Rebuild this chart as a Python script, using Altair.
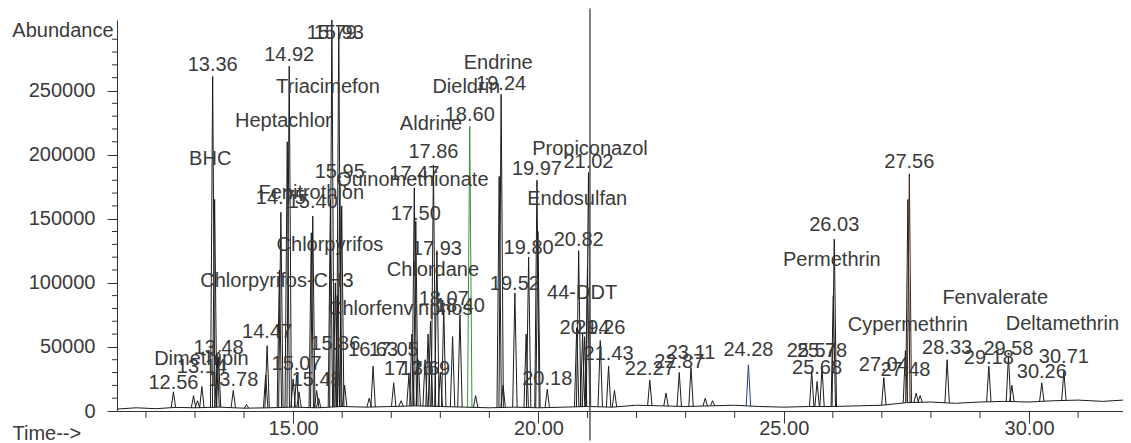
import altair as alt
import pandas as pd
import numpy as np

# ---- chromatogram peaks (retention time, abundance) ----
peak_times = [12.56, 12.97, 13.05, 13.14, 13.36, 13.40, 13.45, 13.48, 13.78, 14.05,
              14.44, 14.47, 14.72, 14.75, 14.88, 14.92, 15.00, 15.07, 15.12, 15.37,
              15.40, 15.48, 15.52, 15.76, 15.79, 15.86, 15.90, 15.93, 15.95, 15.99,
              16.05, 16.55, 16.63, 17.05, 17.20, 17.36, 17.42, 17.47, 17.50, 17.55,
              17.69, 17.75, 17.80, 17.86, 17.93, 18.00, 18.07, 18.25, 18.40, 18.60,
              18.72, 19.20, 19.24, 19.28, 19.52, 19.75, 19.80, 19.97, 19.99, 20.18,
              20.78, 20.82, 20.90, 20.94, 21.00, 21.02, 21.26, 21.43, 21.55, 22.27,
              22.60, 22.87, 23.11, 23.40, 23.55, 24.28, 25.57, 25.68, 25.78, 26.01,
              26.03, 27.04, 27.48, 27.53, 27.56, 27.70, 27.78, 28.33, 29.18, 29.58,
              29.65, 30.26, 30.71]
peak_heights = [15000, 12000, 8000, 19000, 261000, 165000, 45000, 42000, 16000, 5000,
                28000, 51000, 110000, 155000, 210000, 269000, 25000, 28000, 15000, 139000,
                152000, 16000, 10000, 165000, 305000, 100000, 90000, 300000, 180000, 160000,
                20000, 10000, 35000, 22000, 8000, 28000, 60000, 174000, 148000, 40000,
                40000, 60000, 70000, 192000, 125000, 30000, 80000, 58000, 75000, 222000,
                12000, 183000, 247000, 20000, 92000, 60000, 120000, 180000, 140000, 17000,
                65000, 125000, 60000, 58000, 113000, 186000, 55000, 35000, 16000, 24000,
                14000, 30000, 34000, 10000, 8000, 36000, 31000, 23000, 34000, 90000,
                134000, 26000, 47000, 165000, 185000, 14000, 12000, 40000, 35000, 43000,
                20000, 22000, 31000]

# ---- baseline (retention time, abundance) ----
base_times = [11.41, 11.8, 12.2, 12.6, 13.0, 13.5, 14.0, 14.5, 15.0, 15.5, 16.0, 16.5,
              17.0, 17.5, 18.0, 18.5, 19.0, 19.5, 20.0, 20.5, 21.0, 21.5, 22.0, 22.5,
              23.0, 23.5, 24.0, 24.5, 25.0, 25.5, 26.0, 26.5, 27.0, 27.5, 28.0, 28.5,
              29.0, 29.5, 30.0, 30.5, 31.0, 31.5, 31.915]
base_levels = [1500, 2500, 1800, 2800, 2500, 3000, 2200, 2500, 3000, 2500, 3500, 3000,
               3500, 4000, 3500, 3000, 2500, 3000, 2500, 3000, 3500, 3000, 4500, 4000,
               3500, 4000, 4500, 3500, 3000, 3500, 3500, 4000, 4500, 6500, 7000, 6000,
               7000, 7500, 7000, 8000, 8500, 7500, 8500]

# ---- retention-time labels ----
rt_labels = ["12.56", "13.14", "13.36", "13.48", "13.78", "14.47", "14.75", "14.92",
             "15.07", "15.40", "15.48", "15.79", "15.93", "15.86", "15.95", "16.63",
             "17.05", "17.36", "17.69", "17.47", "17.50", "17.86", "17.93", "18.07",
             "18.40", "18.60", "19.24", "19.52", "19.80", "19.97", "20.18", "20.82",
             "20.94", "21.02", "21.26", "21.43", "22.27", "22.87", "23.11", "24.28",
             "25.57", "25.78", "25.68", "26.03", "27.04", "27.48", "27.56", "28.33",
             "29.18", "29.58", "30.26", "30.71"]
rt_label_heights = [22200, 34600, 270000, 49300, 24300, 61500, 166000, 277400,
                    36300, 163300, 24500, 295000, 295000, 52400, 186600, 47600,
                    47500, 32500, 32500, 184600, 154000, 201700, 126000, 87000,
                    82100, 231000, 255000, 98900, 126800, 189000, 24600, 133500,
                    64800, 194300, 64700, 44400, 32400, 38400, 45300, 47200,
                    46800, 46700, 33500, 145000, 36000, 32000, 194200, 48800,
                    41500, 48400, 30200, 42500]

# ---- compound names ----
compound_names = ["Dimethipin", "BHC", "Chlorpyrifos-CH3", "Heptachlor", "Fenitrothion",
                  "Triacimefon", "Chlorpyrifos", "Quinomethionate", "Aldrine", "Dieldrin",
                  "Endrine", "Propiconazol", "Endosulfan", "Chlordane", "44-DDT",
                  "Permethrin", "Cypermethrin", "Fenvalerate", "Deltamethrin"]
compound_times = [13.13, 13.31, 14.67, 14.80, 15.37, 15.71, 15.75, 17.43, 17.81, 18.53,
                  19.18, 21.05, 20.79, 17.85, 20.89, 25.98, 27.53, 29.31, 30.68]
compound_heights = [40800, 196700, 101200, 226000, 170400, 253000, 129700, 180300, 223500,
                    252900, 271400, 204400, 165500, 109700, 92100, 118100, 66900, 88200,
                    68250]
chlorfenvinphos_time = [15.71]
chlorfenvinphos_height = [79600]

cursor_time = [21.05]
cursor_top = [314000]
cursor_bottom = [-23000]

# ---- axis ticks ----
x_major = [15, 20, 25, 30]
x_minor = [12, 13, 14, 16, 17, 18, 19, 21, 22, 23, 24, 26, 27, 28, 29, 31]
y_major = [0, 50000, 100000, 150000, 200000, 250000]
y_minor = [v for v in range(10000, 310000, 10000) if v % 50000 != 0]

# ---- styling ----
FONT = "Liberation Sans"
TXT = "#3a3a3a"
INK = "#1c1c1c"
AXC = "#333333"
PEAK_W = 0.045
highlight = {18.60: "#3f8f3f", 24.28: "#2c3c88", 27.56: "#4a2418"}
W, H = 1006, 391

XDOM = [11.41, 31.915]
YDOM = [0, 305000]

rows = []
for i, (t, h) in enumerate(zip(peak_times, peak_heights)):
    b = float(np.interp(t, base_times, base_levels))
    col = highlight.get(t, INK)
    rows.append({"id": i, "t": t - PEAK_W, "v": b, "o": 0, "col": col})
    rows.append({"id": i, "t": t, "v": h, "o": 1, "col": col})
    rows.append({"id": i, "t": t + PEAK_W, "v": b, "o": 2, "col": col})
peaks_df = pd.DataFrame(rows)
base_df = pd.DataFrame({"t": base_times, "v": base_levels})
rt_df = pd.DataFrame({"t": [float(s) for s in rt_labels], "v": rt_label_heights, "label": rt_labels})
name_df = pd.DataFrame({"t": compound_times, "v": compound_heights, "label": compound_names})
cfv_df = pd.DataFrame({"t": chlorfenvinphos_time, "v": chlorfenvinphos_height,
                       "label": ["Chlorfenvinphos"]})
cursor_df = pd.DataFrame({"t": cursor_time, "y1": cursor_top, "y2": cursor_bottom})
xminor_df = pd.DataFrame({"t": x_minor})
yminor_df = pd.DataFrame({"v": y_minor})

xscale = alt.Scale(domain=XDOM, nice=False, zero=False)
yscale = alt.Scale(domain=YDOM, nice=False, zero=False)

xaxis = alt.Axis(
    values=x_major, format=".2f", tickSize=12, labelPadding=-5, labelOverlap=False,
    grid=False, title="Time-->",
    titleX=-105, titleY=22, titleAlign="left", titleBaseline="middle", titleAngle=0,
)
yaxis = alt.Axis(
    values=y_major, format="d", tickSize=10, labelPadding=12, labelOverlap=False,
    grid=False, title="Abundance",
    titleX=-4, titleY=10, titleAlign="right", titleBaseline="middle", titleAngle=0,
)

baseline = alt.Chart(base_df).mark_line(color=INK, strokeWidth=1, clip=True).encode(
    x=alt.X("t:Q", scale=xscale, axis=xaxis),
    y=alt.Y("v:Q", scale=yscale, axis=yaxis),
)
peaks = alt.Chart(peaks_df).mark_line(strokeWidth=1, clip=True).encode(
    x=alt.X("t:Q", scale=xscale),
    y=alt.Y("v:Q", scale=yscale),
    detail="id:N",
    order="o:Q",
    color=alt.Color("col:N", scale=None),
)
cursor = alt.Chart(cursor_df).mark_rule(color="#555555", strokeWidth=1.5, clip=False).encode(
    x=alt.X("t:Q", scale=xscale),
    y=alt.Y("y1:Q", scale=yscale),
    y2="y2:Q",
)
xminor = alt.Chart(xminor_df).mark_rule(color=AXC, strokeWidth=1, clip=False).encode(
    x=alt.X("t:Q", scale=xscale),
    y=alt.value(H),
    y2=alt.value(H + 7),
)
yminor = alt.Chart(yminor_df).mark_rule(color=AXC, strokeWidth=1, clip=False).encode(
    y=alt.Y("v:Q", scale=yscale),
    x=alt.value(-5),
    x2=alt.value(0),
)
rt_text = alt.Chart(rt_df).mark_text(font=FONT, fontSize=20, color=TXT, align="center",
                                     baseline="middle").encode(
    x=alt.X("t:Q", scale=xscale), y=alt.Y("v:Q", scale=yscale), text="label:N")
name_text = alt.Chart(name_df).mark_text(font=FONT, fontSize=20, color=TXT, align="center",
                                         baseline="middle").encode(
    x=alt.X("t:Q", scale=xscale), y=alt.Y("v:Q", scale=yscale), text="label:N")
cfv_text = alt.Chart(cfv_df).mark_text(font=FONT, fontSize=20, color=TXT, align="left",
                                       baseline="middle").encode(
    x=alt.X("t:Q", scale=xscale), y=alt.Y("v:Q", scale=yscale), text="label:N")

chart = alt.layer(baseline, peaks, cursor, xminor, yminor, rt_text, name_text, cfv_text).properties(
    width=W, height=H,
    autosize=alt.AutoSizeParams(type="none"),
    padding={"left": 109, "top": 12, "right": 0, "bottom": 32},
).configure_view(stroke=None).configure_axis(
    domainColor=AXC, tickColor=AXC, labelColor=TXT, titleColor=TXT,
    labelFont=FONT, titleFont=FONT, labelFontSize=20, titleFontSize=20,
    titleFontWeight="normal", domainWidth=1, tickWidth=1,
)

chart.save("out.html", embed_options={"renderer": "svg", "actions": False})
